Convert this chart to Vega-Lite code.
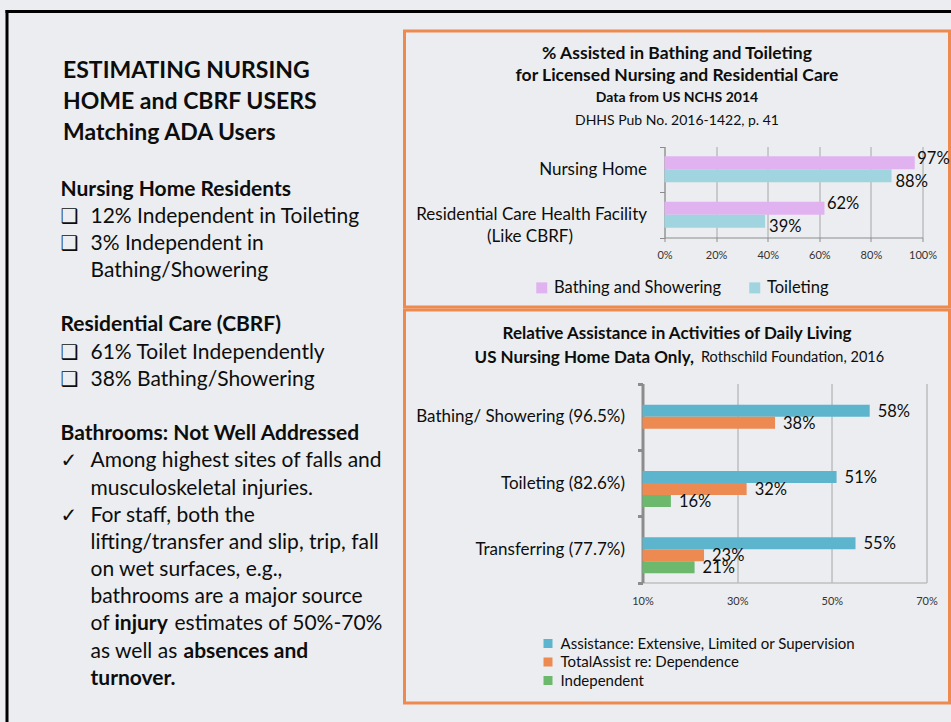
{
"$schema": "https://vega.github.io/schema/vega-lite/v6.json",
"background": "#ebedf0",
"padding": {"left": 3.5, "top": 9, "right": 0, "bottom": 0},
"spacing": 0,
"bounds": "flush",
"resolve": {"scale": {"color": "independent", "yOffset": "independent"}, "legend": {"color": "independent"}},
"config": {"font": "Lato", "view": {"stroke": null}, "text": {"color": "#0d0d0d"}},
"datasets": {
  "leftTitle": [
    {"row": 1, "text": "ESTIMATING NURSING"},
    {"row": 2, "text": "HOME and CBRF USERS"},
    {"row": 3, "text": "Matching ADA Users"}
  ],
  "leftBody": [
    {"line": 0, "kind": "heading", "text": "Nursing Home Residents"},
    {"line": 1, "kind": "item", "bullet": "❑", "text": "12% Independent in Toileting"},
    {"line": 2, "kind": "item", "bullet": "❑", "text": "3% Independent in"},
    {"line": 3, "kind": "cont", "text": "Bathing/Showering"},
    {"line": 5, "kind": "heading", "text": "Residential Care (CBRF)"},
    {"line": 6, "kind": "item", "bullet": "❑", "text": "61% Toilet Independently"},
    {"line": 7, "kind": "item", "bullet": "❑", "text": "38% Bathing/Showering"},
    {"line": 9, "kind": "heading", "text": "Bathrooms: Not Well Addressed"},
    {"line": 10, "kind": "item", "check": "✓", "text": "Among highest sites of falls and"},
    {"line": 11, "kind": "cont", "text": "musculoskeletal injuries."},
    {"line": 12, "kind": "item", "check": "✓", "text": "For staff, both the"},
    {"line": 13, "kind": "cont", "text": "lifting/transfer and slip, trip, fall"},
    {"line": 14, "kind": "cont", "text": "on wet surfaces, e.g.,"},
    {"line": 15, "kind": "cont", "text": "bathrooms are a major source"},
    {"line": 16, "kind": "cont", "text": "of"},
    {"line": 17, "kind": "cont", "text": "as well as"}
  ],
  "nchs": [
    {"facility": "Nursing Home", "activity": "Bathing and Showering", "pct": 0.97},
    {"facility": "Nursing Home", "activity": "Toileting", "pct": 0.88},
    {"facility": "Residential Care Health Facility (Like CBRF)", "activity": "Bathing and Showering", "pct": 0.62},
    {"facility": "Residential Care Health Facility (Like CBRF)", "activity": "Toileting", "pct": 0.39}
  ],
  "adl": [
    {"activity": "Bathing/ Showering (96.5%)", "series": "Assistance: Extensive, Limited or Supervision", "pct": 0.58},
    {"activity": "Bathing/ Showering (96.5%)", "series": "TotalAssist re: Dependence", "pct": 0.38},
    {"activity": "Toileting (82.6%)", "series": "Assistance: Extensive, Limited or Supervision", "pct": 0.51},
    {"activity": "Toileting (82.6%)", "series": "TotalAssist re: Dependence", "pct": 0.32},
    {"activity": "Toileting (82.6%)", "series": "Independent", "pct": 0.16},
    {"activity": "Transferring (77.7%)", "series": "Assistance: Extensive, Limited or Supervision", "pct": 0.55},
    {"activity": "Transferring (77.7%)", "series": "TotalAssist re: Dependence", "pct": 0.23},
    {"activity": "Transferring (77.7%)", "series": "Independent", "pct": 0.21}
  ]
},
"hconcat": [
  {
    "width": 397.5, "height": 689,
    "layer": [
      {
        "data": {"values": [{}]},
        "mark": {"type": "point", "opacity": 0},
        "encoding": {
          "x": {"datum": 0, "type": "quantitative", "scale": {"domain": [0, 1], "nice": false},
                "axis": {"orient": "top", "offset": 20, "domainColor": "#000", "domainWidth": 3, "domainCap": "square", "labels": false, "ticks": false, "grid": false, "title": null}},
          "y": {"datum": 0, "type": "quantitative", "scale": {"domain": [0, 1], "range": [689, -20], "nice": false},
                "axis": {"orient": "left", "domainColor": "#000", "domainWidth": 3, "domainCap": "square", "labels": false, "ticks": false, "grid": false, "title": null}}
        }
      },
      {
        "data": {"name": "leftTitle"},
        "mark": {"type": "text", "align": "left", "baseline": "middle", "fontSize": 23, "fontWeight": "bold", "dx": 2.5},
        "encoding": {
          "x": {"datum": 0, "type": "quantitative", "scale": {"domain": [0, 1], "range": [54, 84], "nice": false, "zero": false}, "axis": null},
          "y": {"field": "row", "type": "quantitative", "scale": {"domain": [1, 3], "range": [39.5, 101.5], "nice": false, "zero": false}, "axis": null},
          "text": {"field": "text"}
        }
      },
      {
        "encoding": {
          "x": {"datum": 1, "type": "quantitative", "scale": {"domain": [0, 1], "range": [54, 84], "nice": false, "zero": false}, "axis": null},
          "y": {"field": "line", "type": "quantitative", "scale": {"domain": [0, 18], "range": [158.5, 647.8], "nice": false, "zero": false}, "axis": null},
          "text": {"field": "text"}
        },
        "layer": [
          {
            "data": {"name": "leftBody"},
            "transform": [{"filter": "datum.kind == 'heading'"}],
            "mark": {"type": "text", "align": "left", "baseline": "middle", "fontSize": 21, "fontWeight": "bold"},
            "encoding": {"x": {"datum": 0, "type": "quantitative"}}
          },
          {
            "data": {"name": "leftBody"},
            "transform": [{"filter": "datum.kind != 'heading'"}],
            "mark": {"type": "text", "align": "left", "baseline": "middle", "fontSize": 21}
          },
          {
            "data": {"name": "leftBody"},
            "transform": [{"filter": "isValid(datum.bullet)"}],
            "mark": {"type": "text", "align": "left", "baseline": "middle", "fontSize": 20, "font": "DejaVu Sans", "fontWeight": "bold"},
            "encoding": {"x": {"datum": 0, "type": "quantitative"}, "text": {"field": "bullet"}}
          },
          {
            "data": {"name": "leftBody"},
            "transform": [{"filter": "isValid(datum.check)"}],
            "mark": {"type": "text", "align": "left", "baseline": "middle", "fontSize": 20, "font": "DejaVu Sans"},
            "encoding": {"x": {"datum": 0, "type": "quantitative"}, "text": {"field": "check"}}
          },
          {
            "data": {"values": [{"line": 18, "text": "turnover."}]},
            "mark": {"type": "text", "align": "left", "baseline": "middle", "fontSize": 21, "fontWeight": "bold"}
          },
          {
            "data": {"values": [{"line": 16, "text": "injury"}]},
            "mark": {"type": "text", "align": "left", "baseline": "middle", "fontSize": 21, "fontWeight": "bold", "dx": 24}
          },
          {
            "data": {"values": [{"line": 16, "text": "estimates of 50%-70%"}]},
            "mark": {"type": "text", "align": "left", "baseline": "middle", "fontSize": 21, "dx": 84}
          },
          {
            "data": {"values": [{"line": 17, "text": "absences and"}]},
            "mark": {"type": "text", "align": "left", "baseline": "middle", "fontSize": 21, "fontWeight": "bold", "dx": 93}
          }
        ]
      }
    ],
    "resolve": {"scale": {"x": "independent", "y": "independent"}}
  },
  {
    "spacing": 3,
    "bounds": "flush",
    "resolve": {"scale": {"color": "independent", "yOffset": "independent"}, "legend": {"color": "independent"}},
    "vconcat": [
      {
        "width": 545, "height": 276,
        "view": {"stroke": "#ef8a4f", "strokeWidth": 3},
        "layer": [
          {
            "data": {"values": [{}]},
            "mark": {"type": "point", "opacity": 0},
            "encoding": {
              "x": {"datum": 0, "type": "quantitative", "scale": {"domain": [0, 1], "nice": false},
                    "axis": {"orient": "top", "offset": 20, "domainColor": "#000", "domainWidth": 3, "domainCap": "square", "labels": false, "ticks": false, "grid": false, "title": null}}
            }
          },
          {
            "encoding": {
              "y": {"field": "row", "type": "quantitative", "scale": {"domain": [1, 4], "range": [22.5, 89.5], "nice": false, "zero": false}, "axis": null},
              "text": {"field": "text"}
            },
            "layer": [
              {"data": {"values": [{"row": 1, "text": "% Assisted in Bathing and Toileting"}, {"row": 2, "text": "for Licensed Nursing and Residential Care"}]},
               "mark": {"type": "text", "fontWeight": "bold", "fontSize": 17.5}},
              {"data": {"values": [{"row": 3, "text": "Data from US NCHS 2014"}]},
               "mark": {"type": "text", "fontWeight": "bold", "fontSize": 14}},
              {"data": {"values": [{"row": 4, "text": "DHHS Pub No. 2016-1422, p. 41"}]},
               "mark": {"type": "text", "fontSize": 14}}
            ]
          },
          {
            "data": {"name": "nchs"},
            "encoding": {
              "y": {"field": "facility", "type": "nominal", "sort": ["Nursing Home", "Residential Care Health Facility (Like CBRF)"],
                    "scale": {"range": [115.5, 206.5], "paddingInner": 0, "paddingOuter": 0},
                    "axis": {"orient": "left", "offset": -260, "title": null, "grid": false, "domainColor": "#8c8c8c", "tickColor": "#8c8c8c", "tickSize": 5, "tickBand": "extent",
                             "labelFontSize": 17, "labelPadding": 13, "labelColor": "#0d0d0d", "labelLineHeight": 22, "labelLimit": 400,
                             "labelExpr": "datum.value == 'Residential Care Health Facility (Like CBRF)' ? ['Residential Care Health Facility', '(Like CBRF)\u00a0\u00a0\u00a0\u00a0\u00a0\u00a0\u00a0\u00a0\u00a0\u00a0\u00a0\u00a0\u00a0\u00a0\u00a0\u00a0\u00a0\u200b'] : datum.value"}},
              "yOffset": {"field": "activity", "type": "nominal", "sort": ["Bathing and Showering", "Toileting"], "scale": {"paddingInner": 0, "paddingOuter": 0.75}}
            },
            "layer": [
              {
                "mark": {"type": "bar"},
                "encoding": {
                  "x": {"field": "pct", "type": "quantitative", "scale": {"domain": [0, 1], "range": [260, 518], "nice": false},
                        "axis": {"orient": "bottom", "offset": -69.5, "values": [0, 0.2, 0.4, 0.6, 0.8, 1], "format": ".0%", "title": null, "grid": false, "labelFlush": false,
                                 "domainColor": "#8c8c8c", "tickColor": "#8c8c8c", "tickSize": 4, "labelFontSize": 11, "labelPadding": 8, "labelColor": "#333"}},
                  "color": {"field": "activity", "type": "nominal", "scale": {"domain": ["Bathing and Showering", "Toileting"], "range": ["#e1b2f0", "#a0d5e0"]},
                            "legend": {"orient": "none", "direction": "horizontal", "legendX": 129, "legendY": 248.5, "title": null, "symbolType": "square", "symbolSize": 121,
                                       "symbolStrokeWidth": 0, "labelFontSize": 16.5, "labelOffset": 4, "columnPadding": 25, "padding": 0, "labelColor": "#0d0d0d", "labelLimit": 400}}
                }
              },
              {
                "transform": [{"filter": "datum.activity == 'Bathing and Showering'"}],
                "mark": {"type": "text", "align": "left", "baseline": "middle", "dx": 2.5, "dy": -4, "fontSize": 16.5},
                "encoding": {
                  "x": {"field": "pct", "type": "quantitative",
                        "axis": {"orient": "top", "values": [0, 0.2, 0.4, 0.6, 0.8, 1], "grid": true, "gridColor": "#a6a6a6", "labels": false, "ticks": false, "domain": false, "title": null}},
                  "text": {"field": "pct", "type": "quantitative", "format": ".0%"}
                }
              },
              {
                "transform": [{"filter": "datum.activity == 'Toileting'"}],
                "mark": {"type": "text", "align": "left", "baseline": "middle", "dx": 4, "dy": 6, "fontSize": 16.5},
                "encoding": {
                  "x": {"field": "pct", "type": "quantitative", "axis": null},
                  "text": {"field": "pct", "type": "quantitative", "format": ".0%"}
                }
              }
            ],
            "resolve": {"axis": {"x": "independent"}}
          }
        ],
        "resolve": {"scale": {"x": "independent", "y": "independent"}}
      },
      {
        "width": 545, "height": 393,
        "view": {"stroke": "#ef8a4f", "strokeWidth": 3},
        "layer": [
          {
            "encoding": {
              "y": {"field": "row", "type": "quantitative", "scale": {"domain": [1, 2], "range": [23.5, 47.5], "nice": false, "zero": false}, "axis": null},
              "text": {"field": "text"}
            },
            "layer": [
              {"data": {"values": [{"row": 1, "text": "Relative Assistance in Activities of Daily Living"}]},
               "mark": {"type": "text", "fontWeight": "bold", "fontSize": 17}},
              {"data": {"values": [{"row": 2, "text": "US Nursing Home Data Only,"}]},
               "mark": {"type": "text", "fontWeight": "bold", "fontSize": 17, "align": "right", "dx": 17}},
              {"data": {"values": [{"row": 2, "text": "Rothschild Foundation, 2016"}]},
               "mark": {"type": "text", "fontSize": 14.5, "align": "left", "dx": 24}}
            ]
          },
          {
            "data": {"name": "adl"},
            "encoding": {
              "y": {"field": "activity", "type": "nominal", "sort": ["Bathing/ Showering (96.5%)", "Toileting (82.6%)", "Transferring (77.7%)"],
                    "scale": {"range": [73.5, 272.5], "paddingInner": 0, "paddingOuter": 0},
                    "axis": {"orient": "left", "offset": -238, "title": null, "grid": false, "domainColor": "#8c8c8c", "domainWidth": 3, "tickColor": "#8c8c8c", "tickWidth": 3, "tickSize": 5, "tickBand": "extent",
                             "labelFontSize": 17, "labelPadding": 13, "labelColor": "#0d0d0d", "labelLimit": 400}},
              "yOffset": {"field": "series", "type": "nominal",
                          "scale": {"domain": ["pad", "Assistance: Extensive, Limited or Supervision", "TotalAssist re: Dependence", "Independent"], "paddingInner": 0, "paddingOuter": 0.764}}
            },
            "layer": [
              {
                "mark": {"type": "bar"},
                "encoding": {
                  "x": {"field": "pct", "type": "quantitative", "scale": {"domain": [0.1, 0.7], "range": [238, 522], "nice": false, "zero": false},
                        "axis": {"orient": "bottom", "offset": -120.5, "values": [0.1, 0.3, 0.5, 0.7], "format": ".0%", "title": null, "grid": false, "labelFlush": false,
                                 "domainColor": "#bfbfbf", "domainWidth": 1.5, "ticks": false, "labelFontSize": 11, "labelPadding": 13, "labelColor": "#333"}},
                  "x2": {"datum": 0.1},
                  "color": {"field": "series", "type": "nominal",
                            "scale": {"domain": ["Assistance: Extensive, Limited or Supervision", "TotalAssist re: Dependence", "Independent"], "range": ["#5db4cd", "#ec8a52", "#6cb96e"]},
                            "legend": {"orient": "none", "direction": "vertical", "legendX": 136, "legendY": 326, "title": null, "symbolType": "square", "symbolSize": 81,
                                       "symbolStrokeWidth": 0, "labelFontSize": 15, "labelOffset": 5, "rowPadding": 2.5, "padding": 0, "labelColor": "#0d0d0d", "labelLimit": 400}}
                }
              },
              {
                "mark": {"type": "text", "align": "left", "baseline": "middle", "dx": 8, "dy": 1, "fontSize": 16.5},
                "encoding": {
                  "x": {"field": "pct", "type": "quantitative",
                        "axis": {"orient": "top", "values": [0.1, 0.3, 0.5, 0.7], "grid": true, "gridColor": "#a6a6a6", "labels": false, "ticks": false, "domain": false, "title": null}},
                  "text": {"field": "pct", "type": "quantitative", "format": ".0%"}
                }
              }
            ],
            "resolve": {"axis": {"x": "independent"}}
          }
        ],
        "resolve": {"scale": {"x": "independent", "y": "independent"}}
      }
    ]
  }
]
}
